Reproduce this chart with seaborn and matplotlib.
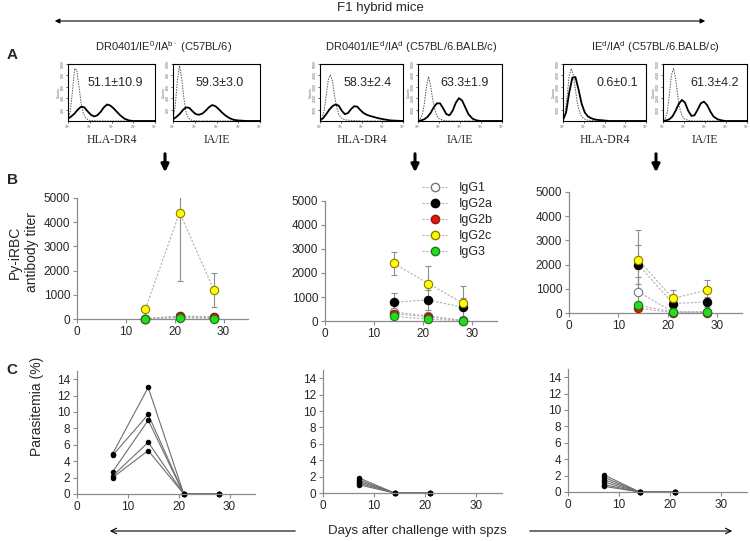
import matplotlib.pyplot as plt
import numpy as np
import pandas as pd
import seaborn as sns

W, H = 750, 541

# ---- panel A: flow histograms (log10 intensity, % of max count) ----
solid_grid = [0, 0.15, 0.3, 0.45, 0.6, 0.75, 0.9, 1.05, 1.2, 1.35, 1.5, 1.65, 1.8, 1.95,
              2.1, 2.25, 2.4, 2.6, 2.8, 3.0, 3.4, 4.0]
dot_grid = [0, 0.1, 0.2, 0.3, 0.4, 0.5, 0.6, 0.7, 0.8, 0.9, 1.0, 1.2, 1.5, 2.0, 4.0]

b6_hla_solid = [4, 8, 13, 20, 25, 24, 17, 11, 8, 10, 16, 24, 29, 27, 22, 16, 10, 4, 1, 0, 0, 0]
b6_hla_iso = [2, 15, 50, 92, 90, 62, 32, 14, 6, 3, 1, 0.5, 0, 0, 0]
b6_ia_solid = [3, 7, 12, 19, 24, 23, 17, 12, 11, 13, 18, 24, 28, 26, 21, 15, 10, 5, 2, 1, 0, 0]
b6_ia_iso = [3, 25, 70, 97, 75, 40, 15, 6, 2, 1, 0.5, 0, 0, 0, 0]
dr_hla_solid = [1, 5, 12, 20, 26, 29, 27, 18, 12, 14, 21, 26, 25, 19, 14, 11, 9, 7, 5, 3.5, 1, 0]
dr_hla_iso = [1, 5, 18, 45, 72, 81, 70, 45, 25, 12, 6, 2, 1, 0, 0]
dr_ia_solid = [0, 1, 3, 7, 14, 24, 31, 31, 22, 12, 10, 18, 32, 40, 36, 24, 12, 4, 1, 0, 0, 0]
dr_ia_iso = [1, 3, 10, 30, 60, 78, 62, 38, 20, 9, 4, 1, 0, 0, 0]
ie_hla_solid = [2, 15, 50, 76, 77, 55, 30, 15, 8, 5, 3, 2, 1.5, 1, 0.5, 0, 0, 0, 0, 0, 0, 0]
ie_hla_iso = [2, 12, 45, 80, 92, 80, 55, 30, 15, 8, 4, 1.5, 0.5, 0, 0]
ie_ia_solid = [0, 1, 3, 8, 18, 30, 37, 32, 18, 9, 10, 20, 31, 34, 28, 17, 8, 3, 1, 0, 0, 0]
ie_ia_iso = [1, 4, 15, 45, 80, 92, 75, 45, 22, 10, 4, 1, 0, 0, 0]

pct_labels = ["51.1±10.9", "59.3±3.0", "58.3±2.4", "63.3±1.9", "0.6±0.1", "61.3±4.2"]
group_titles = [r"DR0401/IE$^{\mathrm{0}}$/IA$^{\mathrm{b}\cdot}$ (C57BL/6)",
                r"DR0401/IE$^{\mathrm{d}}$/IA$^{\mathrm{d}}$ (C57BL/6.BALB/c)",
                r"IE$^{\mathrm{d}}$/IA$^{\mathrm{d}}$ (C57BL/6.BALB/c)"]
count_max = [1000, 1000, 5000, 5000, 5000, 5000]

# ---- panel B: antibody titers ----
isotypes = ["IgG1", "IgG2a", "IgG2b", "IgG2c", "IgG3"]
b_days = [14, 21, 28]
b6_titer = {"IgG1": [20, 110, 90], "IgG2a": [10, 80, 60], "IgG2b": [20, 120, 100],
            "IgG2c": [420, 4400, 1200], "IgG3": [10, 50, 20]}
b6_err = {"IgG1": [10, 30, 30], "IgG2a": [10, 30, 20], "IgG2b": [10, 40, 30],
          "IgG2c": [100, 2850, 690], "IgG3": [5, 20, 10]}
dr_titer = {"IgG1": [380, 200, 30], "IgG2a": [780, 880, 570], "IgG2b": [300, 180, 20],
            "IgG2c": [2400, 1560, 750], "IgG3": [190, 80, 10]}
dr_err = {"IgG1": [120, 90, 20], "IgG2a": [380, 420, 400], "IgG2b": [80, 60, 10],
          "IgG2c": [480, 730, 700], "IgG3": [60, 40, 10]}
ie_titer = {"IgG1": [880, 40, 40], "IgG2a": [2000, 390, 460], "IgG2b": [200, 20, 20],
            "IgG2c": [2200, 600, 950], "IgG3": [320, 50, 50]}
ie_err = {"IgG1": [600, 30, 30], "IgG2a": [800, 200, 200], "IgG2b": [100, 10, 10],
          "IgG2c": [1250, 330, 430], "IgG3": [150, 30, 30]}

# ---- panel C: parasitemia per mouse ----
b6_para_days = [7, 14, 21, 28]
b6_para = [[4.9, 13.0, 0, 0], [4.7, 9.7, 0, 0], [2.7, 9.0, 0, 0], [2.2, 6.3, 0, 0], [2.0, 5.3, 0, 0]]
dr_para_days = [7, 14, 21]
dr_para = [[1.85, 0, 0], [1.6, 0, 0], [1.4, 0, 0], [1.2, 0, 0], [1.0, 0, 0]]
ie_para_days = [7, 14, 21]
ie_para = [[2.1, 0, 0], [1.8, 0, 0], [1.5, 0, 0], [1.2, 0, 0], [0.9, 0, 0], [0.7, 0, 0]]

face = {"IgG1": "white", "IgG2a": "black", "IgG2b": "#e8120c", "IgG2c": "#ffff00", "IgG3": "#22dd22"}
edge = {"IgG1": "#777777", "IgG2a": "black", "IgG2b": "#8a1a0a", "IgG2c": "#8a7a00", "IgG3": "#1a7a1a"}

sns.set_style("ticks")
plt.rcParams["font.family"] = ["Liberation Sans", "DejaVu Sans"]
plt.rcParams["mathtext.fontset"] = "custom"
plt.rcParams["mathtext.rm"] = "Liberation Sans"
plt.rcParams["mathtext.it"] = "Liberation Sans:italic"

fig = plt.figure(figsize=(7.5, 5.41), dpi=100)


def px_axes(l, t, r, b):
    return fig.add_axes([l / W, 1 - b / H, (r - l) / W, (b - t) / H])


# overlay for labels and arrows
ov = fig.add_axes([0, 0, 1, 1])
ov.set_xlim(0, W)
ov.set_ylim(H, 0)
ov.axis("off")

ov.text(380, 8, "F1 hybrid mice", ha="center", va="center", fontsize=9.5)
ov.annotate("", xy=(52, 21), xytext=(708, 21),
            arrowprops=dict(arrowstyle="<|-|>", color="k", lw=0.8, mutation_scale=7))
for lab, y in [("A", 55), ("B", 180), ("C", 370)]:
    ov.text(12, y, lab, ha="center", va="center", fontsize=11, fontweight="bold")

# ---- panel A ----
hist_boxes = [(68, 155), (173, 260), (320, 403), (418, 502), (563, 646), (663, 747)]
solids = [b6_hla_solid, b6_ia_solid, dr_hla_solid, dr_ia_solid, ie_hla_solid, ie_ia_solid]
isos = [b6_hla_iso, b6_ia_iso, dr_hla_iso, dr_ia_iso, ie_hla_iso, ie_ia_iso]
txt_pos = [0.54, 0.54, 0.57, 0.56, 0.65, 0.62]
for i, (l, r) in enumerate(hist_boxes):
    ax = px_axes(l, 64, r, 121)
    sns.lineplot(x=10 ** np.array(dot_grid), y=isos[i], ax=ax, color="#555555",
                 lw=0.7, linestyle=(0, (1.5, 1.2)))
    sns.lineplot(x=10 ** np.array(solid_grid), y=solids[i], ax=ax, color="black", lw=1.3)
    ax.set_xscale("log")
    ax.set_xlim(1, 1e4)
    ax.set_ylim(0, 100)
    ax.set_xticks([1, 10, 100, 1000, 10000])
    ax.set_xticklabels(["10$^0$", "10$^1$", "10$^2$", "10$^3$", "10$^4$"], fontsize=2.5, color="#666666")
    ax.xaxis.set_minor_locator(plt.NullLocator())
    ax.set_yticks([20, 40, 60, 80, 100])
    m = count_max[i]
    ax.set_yticklabels([str(int(m * k / 5)) for k in range(1, 6)], fontsize=2.5, rotation=90,
                       va="center", color="#666666")
    ax.set_ylabel("Counts", fontsize=2.5, labelpad=0.5, color="#666666")
    ax.tick_params(length=1.5, width=0.5, pad=0.5)
    for s in ax.spines.values():
        s.set_linewidth(0.8)
        s.set_color("black")
    ax.text(txt_pos[i], 0.67, pct_labels[i], transform=ax.transAxes, ha="center",
            va="center", fontsize=9)
    ax.set_xlabel("")
    ov.text((l + r) / 2, 140, "HLA-DR4" if i % 2 == 0 else "IA/IE", ha="center", va="center",
            fontsize=8.5, family=["Liberation Serif"])

for j, cx in enumerate([164, 411, 655]):
    ov.text(cx, 47, group_titles[j], ha="center", va="center", fontsize=8)

for x in [165, 415, 656]:
    ov.annotate("", xy=(x, 175), xytext=(x, 151),
                arrowprops=dict(arrowstyle="-|>", color="k", lw=2.2, mutation_scale=11))


def style_axes(ax):
    sns.despine(ax=ax)
    for s in ["left", "bottom"]:
        ax.spines[s].set_color("#8c8c8c")
        ax.spines[s].set_linewidth(0.9)
    ax.tick_params(length=3, width=0.8, color="#8c8c8c", labelsize=8.5, pad=2)
    ax.set_xlabel("")
    ax.set_ylabel("")


# ---- panel B ----
b_boxes = [(77, 198, 248, 319), (325, 201, 497, 321), (569, 192, 742, 313)]
b_data = [(b6_titer, b6_err), (dr_titer, dr_err), (ie_titer, ie_err)]
for (l, t, r, b), (titer, err) in zip(b_boxes, b_data):
    ax = px_axes(l, t, r, b)
    for k, iso in enumerate(isotypes):
        sns.lineplot(x=b_days, y=titer[iso], ax=ax, color="#b0b0b0", lw=0.8,
                     linestyle=(0, (2, 1.5)), zorder=1)
        ax.errorbar(b_days, titer[iso], yerr=err[iso], fmt="none", ecolor="#8c8c8c",
                    elinewidth=0.8, capsize=2, capthick=0.8, zorder=2 + k)
        ax.scatter(b_days, titer[iso], s=36, facecolor=face[iso], edgecolor=edge[iso],
                   linewidth=0.8, zorder=10 + k, clip_on=False)
    ax.set_xlim(0, 35)
    ax.set_ylim(0, 5000)
    ax.set_xticks([0, 10, 20, 30])
    ax.set_yticks([0, 1000, 2000, 3000, 4000, 5000])
    style_axes(ax)

handles = [plt.Line2D([], [], color="#b0b0b0", lw=0.8, linestyle=(0, (2, 1.5)), marker="o",
                      markersize=6, markerfacecolor=face[i], markeredgecolor=edge[i])
           for i in isotypes]
fig.legend(handles, isotypes, loc="upper left", bbox_to_anchor=(416 / W, 1 - 176 / H),
           frameon=False, fontsize=9, handlelength=2.0, labelspacing=0.32,
           handletextpad=0.9, borderpad=0)

ov.text(15, 252, "Py-iRBC", rotation=90, ha="center", va="center", fontsize=10)
ov.text(32, 252, "antibody titer", rotation=90, ha="center", va="center", fontsize=10)

# ---- panel C ----
c_boxes = [(77, 371, 255, 494), (323, 370, 502, 493), (568, 369, 747, 492)]
c_data = [(b6_para_days, b6_para), (dr_para_days, dr_para), (ie_para_days, ie_para)]
for (l, t, r, b), (days, mice) in zip(c_boxes, c_data):
    ax = px_axes(l, t, r, b)
    df = pd.DataFrame([(m, d, v) for m, vals in enumerate(mice) for d, v in zip(days, vals)],
                      columns=["mouse", "day", "para"])
    sns.lineplot(data=df, x="day", y="para", units="mouse", estimator=None, ax=ax,
                 color="#6e6e6e", lw=0.8, marker="o", markersize=3.2,
                 markerfacecolor="black", markeredgecolor="black", clip_on=False)
    ax.set_xlim(0, 35)
    ax.set_ylim(0, 15)
    ax.set_xticks([0, 10, 20, 30])
    ax.set_yticks([0, 2, 4, 6, 8, 10, 12, 14])
    style_axes(ax)

ov.text(37, 406, "Parasitemia (%)", rotation=90, ha="center", va="center", fontsize=10)

ov.annotate("", xy=(107, 531), xytext=(298, 531),
            arrowprops=dict(arrowstyle="->", color="k", lw=0.8, mutation_scale=10))
ov.annotate("", xy=(735, 531), xytext=(527, 531),
            arrowprops=dict(arrowstyle="->", color="k", lw=0.8, mutation_scale=10))
ov.text(417, 531, "Days after challenge with spzs", ha="center", va="center", fontsize=9.5)

fig.savefig("out.png", dpi=100)
